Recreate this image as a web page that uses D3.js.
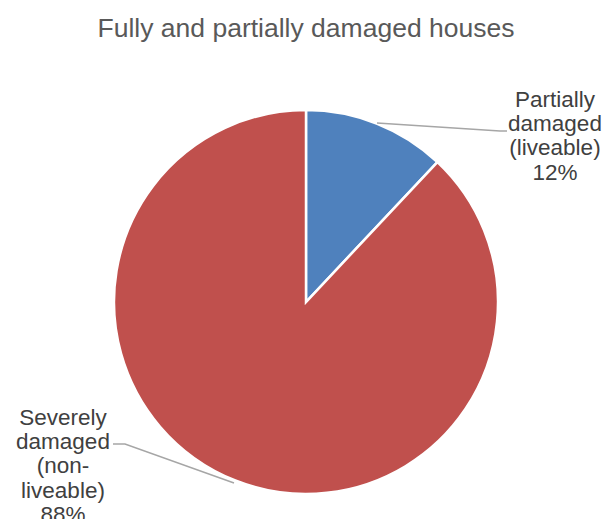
<!DOCTYPE html>
<html>
<head>
<meta charset="utf-8">
<script src="https://cdn.jsdelivr.net/npm/d3@7"></script>
<style>
  body { margin: 0; background: #fff; }
  svg { display: block; font-family: "Liberation Sans", Arial, sans-serif; }
</style>
</head>
<body>
<div id="chart"></div>
<script>
const categories = ['Partially damaged (liveable)', 'Severely damaged (non-liveable)'];
const values = [12, 88];
const pctLabels = ['12%', '88%'];
const labelLines = [
    ['Partially', 'damaged', '(liveable)', '12%'],
    ['Severely', 'damaged', '(non-', 'liveable)', '88%']
];
const colors = ['#4F81BD', '#C0504D'];

const width = 604, height = 519;
const cx = 306, cy = 302, radius = 192;

const svg = d3.select('#chart').append('svg')
    .attr('width', width)
    .attr('height', height);

// title
svg.append('text')
    .attr('x', 306)
    .attr('y', 37)
    .attr('text-anchor', 'middle')
    .attr('font-size', 26.5)
    .attr('fill', '#595959')
    .text('Fully and partially damaged houses');

const pie = d3.pie().sort(null).value(d => d)(values);
const arc = d3.arc().innerRadius(0).outerRadius(radius);

const g = svg.append('g').attr('transform', `translate(${cx},${cy})`);

g.selectAll('path')
    .data(pie)
    .enter()
    .append('path')
    .attr('d', arc)
    .attr('fill', (d, i) => colors[i])
    .attr('stroke', '#fff')
    .attr('stroke-width', 2.5);

// label positions (centre x, first baseline) and leader lines
const labelPos = [
    {x: 555, y: 107, line: [[377, 123], [500, 131], [507, 131]]},
    {x: 63, y: 425, line: [[113, 444], [125, 444], [234, 483]]}
];
const lineHeight = 24.2;

labelLines.forEach((lines, i) => {
    const p = labelPos[i];
    svg.append('path')
        .attr('d', d3.line()(p.line))
        .attr('fill', 'none')
        .attr('stroke', '#a6a6a6')
        .attr('stroke-width', 1.5);
    const t = svg.append('text')
        .attr('text-anchor', 'middle')
        .attr('font-size', 22.5)
        .attr('fill', '#404040');
    lines.forEach((s, j) => {
        t.append('tspan')
            .attr('x', p.x)
            .attr('y', p.y + j * lineHeight)
            .text(s);
    });
});
</script>
</body>
</html>
